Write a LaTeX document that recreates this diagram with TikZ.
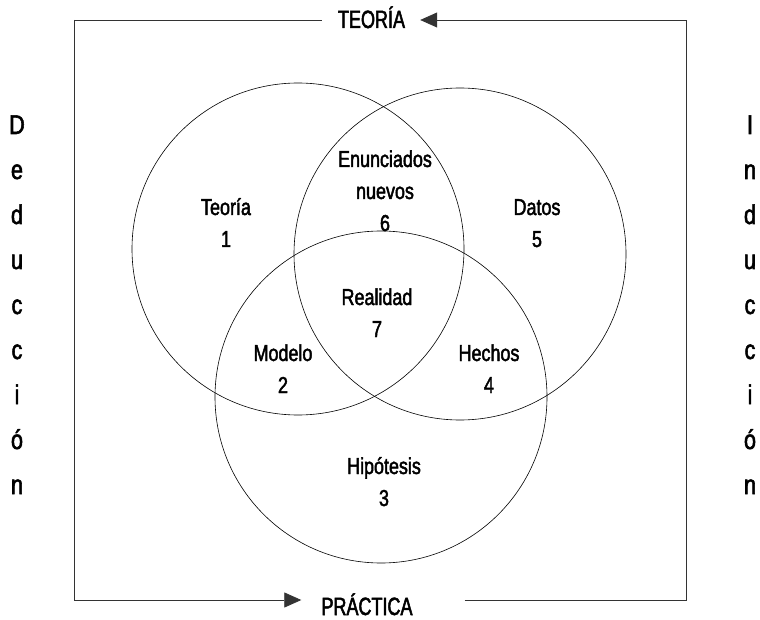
\documentclass[tikz,border=0pt]{standalone}
\usepackage{fontspec}
\setmainfont{Liberation Sans}[FakeStretch=0.78,FakeBold=2]
\newfontfamily\titlefont{Liberation Sans}[FakeStretch=0.72,FakeBold=2]
\newfontfamily\sidefont{Liberation Sans}[FakeStretch=0.8,FakeBold=2]
\usetikzlibrary{arrows.meta}

\tikzset{
  ring/.style={draw=black, line width=0.6pt},
  frame/.style={draw=black!80, line width=0.8pt},
  region/.style={align=center, inner sep=0pt, anchor=base,
    font=\fontsize{23}{32}\selectfont},
  title/.style={inner sep=0pt, anchor=base, font=\titlefont\fontsize{25}{28}\selectfont},
  sidechar/.style={inner sep=0pt, anchor=base, font=\sidefont\fontsize{27}{30}\selectfont}
}

\begin{document}
\begin{tikzpicture}[x=1pt,y=-1pt,>={Triangle[length=17pt,width=15pt]}]

    \useasboundingbox (0,0) rectangle (760,620);

    % circle centres
    \coordinate (Cl) at (298,249);
    \coordinate (Cr) at (460,254);
    \coordinate (Cb) at (381,397);

    \draw[ring] (Cl) circle[radius=166pt];
    \draw[ring] (Cr) circle[radius=166pt];
    \draw[ring] (Cb) circle[radius=166pt];

    % regions (placed at the baseline of their last line)
    \node[region] (teo) at (226,247) {Teoría\\1};
    \node[region] (enu) at (385,231) {Enunciados\\nuevos\\6};
    \node[region] (dat) at (537,247) {Datos\\5};
    \node[region] (rea) at (377,337) {Realidad\\7};
    \node[region] (mod) at (283,393) {Modelo\\2};
    \node[region] (hec) at (489,393) {Hechos\\4};
    \node[region] (hip) at (384,506) {Hipótesis\\3};

    % frame
    \coordinate (tl) at (74,20);
    \coordinate (tr) at (686,20);
    \coordinate (bl) at (74,600);
    \coordinate (br) at (686,600);

    \node[title] (teoria) at (371.5,28) {TEORÍA};
    \node[title] (practica) at (367,615) {PRÁCTICA};

    \draw[frame] (tl) -- (bl);
    \draw[frame,->,shorten >=20pt] (bl) -- (practica.west |- bl);
    \draw[frame,shorten <=52pt] (practica.east |- br) -- (br) -- (tr);
    \draw[frame,->,shorten >=15pt] (tr) -- (teoria.east |- tr);
    \draw[frame,shorten >=16pt] (tl) -- (teoria.west |- tl);

    % side words
    \foreach \ch [count=\i from 0] in {D,e,d,u,c,c,i,ó,n}
      \node[sidechar] (ded\i) at (17,134+45*\i) {\ch};
    \foreach \ch [count=\i from 0] in {I,n,d,u,c,c,i,ó,n}
      \node[sidechar] (ind\i) at (750,134+45*\i) {\ch};

\end{tikzpicture}
\end{document}
